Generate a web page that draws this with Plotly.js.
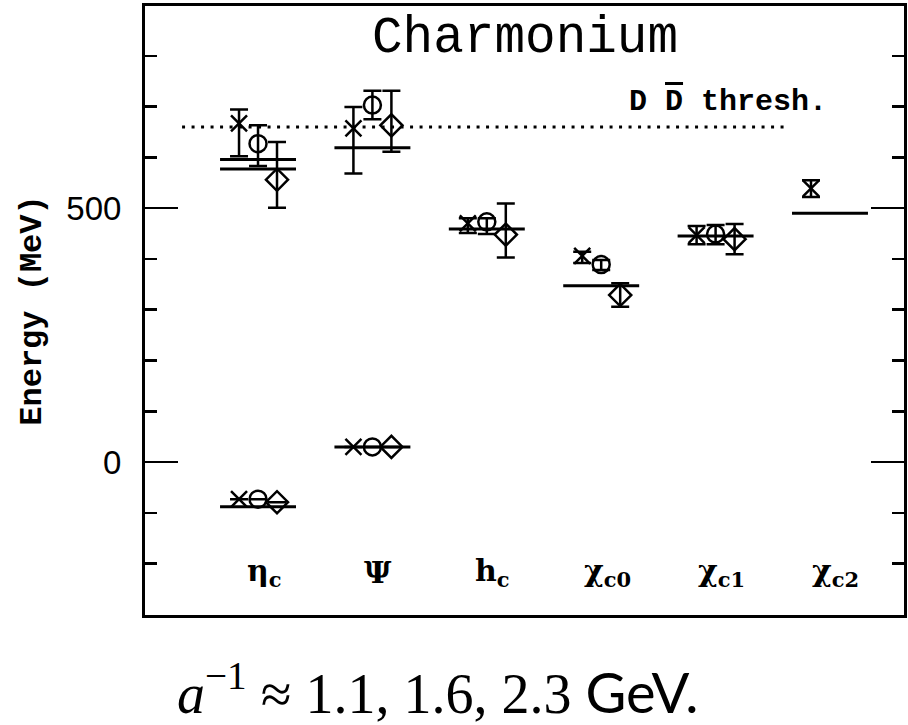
<!DOCTYPE html>
<html>
<head>
<meta charset="utf-8">
<script src="https://cdn.plot.ly/plotly-3.0.1.min.js"></script>
<style>html,body{margin:0;padding:0;background:#fff;} #chart{width:908px;height:725px;}</style>
</head>
<body>
<div id="chart"></div>
<script>
// ---- data ----
const categories = ['η<sub>c</sub>', 'Ψ', 'h<sub>c</sub>', 'χ<sub>c0</sub>', 'χ<sub>c1</sub>', 'χ<sub>c2</sub>'];
// lattice levels: 1S eta_c, 1S psi, 2S eta_c, 2S psi, h_c, chi_c0, chi_c1, chi_c2
const levelCategory = [0, 1, 0, 1, 2, 3, 4, 5];
const spacingLabels = ['a⁻¹ ≈ 1.1 GeV', 'a⁻¹ ≈ 1.6 GeV', 'a⁻¹ ≈ 2.3 GeV'];
const energyA11 = [-73, 30, 667, 657, 470, 406, 447, 539];
const errUpA11  = [0, 0, 27, 42, 10, 8, 18, 16];
const errDnA11  = [0, 0, 65, 89, 19, 14, 18, 17];
const energyA16 = [-73, 30, 627, 703, 473, 389, 449, null];
const errUpA16  = [0, 0, 36, 28, 7, 9, 18, 0];
const errDnA16  = [0, 0, 44, 28, 24, 11, 20, 0];
const energyA23 = [-79, 30, 556, 663, 448, 329, 439, null];
const errUpA23  = [0, 0, 74, 68, 61, 23, 30, 0];
const errDnA23  = [0, 0, 55, 52, 45, 23, 30, 0];
// experimental levels
const expCategory = [0, 1, 0, 0, 1, 2, 3, 4, 5];
const expEnergy   = [-88, 30, 596, 577, 619, 459, 347, 445, 490];
const ddThreshold = 660;
const yTickVals = [0, 500];
const yTickText = ['0', '500'];

// ---- drawing ----
const offsets = [-0.166, 0, 0.166];
const symbols = ['x-thin-open', 'circle-open', 'diamond-open'];
const sizes = [16, 17, 17];
const sets = [[energyA11, errUpA11, errDnA11], [energyA16, errUpA16, errDnA16], [energyA23, errUpA23, errDnA23]];

const traces = [];
// experiment lines
const ex = [], ey = [];
expCategory.forEach((c, i) => { ex.push(c - 0.332, c + 0.332, null); ey.push(expEnergy[i], expEnergy[i], null); });
traces.push({type: 'scatter', mode: 'lines', x: ex, y: ey, line: {color: '#000', width: 3}, name: 'experiment', hoverinfo: 'skip'});
// threshold line
traces.push({type: 'scatter', mode: 'lines', x: [-0.664, 4.607], y: [ddThreshold, ddThreshold],
  line: {color: '#000', width: 3, dash: '3px,6.5px'}, name: 'DD threshold', hoverinfo: 'skip'});

sets.forEach((s, k) => {
  traces.push({
    type: 'scatter', mode: 'markers', name: spacingLabels[k],
    x: levelCategory.map(c => c + offsets[k]), y: s[0],
    marker: {symbol: symbols[k], size: sizes[k], color: '#000', line: {color: '#000', width: 2.5}},
    error_y: {type: 'data', symmetric: false, array: s[1], arrayminus: s[2], color: '#000', thickness: 2.5, width: 9},
    hoverinfo: 'skip'
  });
});

const annotations = [];
categories.forEach((lab, i) => {
  annotations.push({x: i, xref: 'x', y: 0.07, yref: 'paper', xanchor: 'center', yanchor: 'middle',
    text: '<b>' + lab + '</b>', showarrow: false,
    xshift: 6, font: {family: 'DejaVu Serif', size: 30, color: '#000'}});
});
annotations.push({x: 0.5, xref: 'paper', y: 0.947, yref: 'paper', xanchor: 'center', yanchor: 'middle',
  text: 'Charmonium', showarrow: false,
  font: {family: 'Liberation Mono', size: 51, color: '#000'}});
annotations.push({x: 0.768, xref: 'paper', y: 0.842, yref: 'paper', xanchor: 'center', yanchor: 'middle',
  text: '<b>D <span style="text-decoration:overline">D</span> thresh.</b>', showarrow: false,
  font: {family: 'Liberation Mono', size: 30, color: '#000'}});
annotations.push({x: 0.386, xref: 'paper', y: -0.123, yref: 'paper', xanchor: 'center', yanchor: 'middle',
  text: '<i>a</i><sup>−1</sup> ≈ 1.1, 1.6, 2.3 <span style="font-family:Lato">GeV.</span>', showarrow: false,
  font: {family: 'Liberation Serif', size: 56, color: '#000'}});

const layout = {
  width: 908, height: 725,
  margin: {l: 145, r: 4, t: 6, b: 110},
  paper_bgcolor: '#fff', plot_bgcolor: '#fff',
  showlegend: false,
  xaxis: {range: [-0.988, 5.647], showgrid: false, zeroline: false, showticklabels: false, ticks: '',
    showline: true, mirror: true, linecolor: '#000', linewidth: 3},
  yaxis: {range: [-301, 898], showgrid: false, zeroline: false, showline: true, mirror: 'ticks',
    linecolor: '#000', linewidth: 3, ticks: 'inside', ticklen: 33, tickwidth: 2.5, tickcolor: '#000',
    tickvals: yTickVals, ticktext: yTickText, ticklabelstandoff: 14,
    tickfont: {family: 'Liberation Sans', size: 33, color: '#000'},
    minor: {dtick: 100, ticks: 'inside', ticklen: 12, tickwidth: 2.5, tickcolor: '#000', showgrid: false},
    title: {text: '<b>Energy (MeV)</b>', standoff: 16, font: {family: 'Liberation Mono', size: 32, color: '#000'}}
  },
  annotations: annotations
};
Plotly.newPlot('chart', traces, layout, {staticPlot: true, displayModeBar: false});
</script>
</body>
</html>
